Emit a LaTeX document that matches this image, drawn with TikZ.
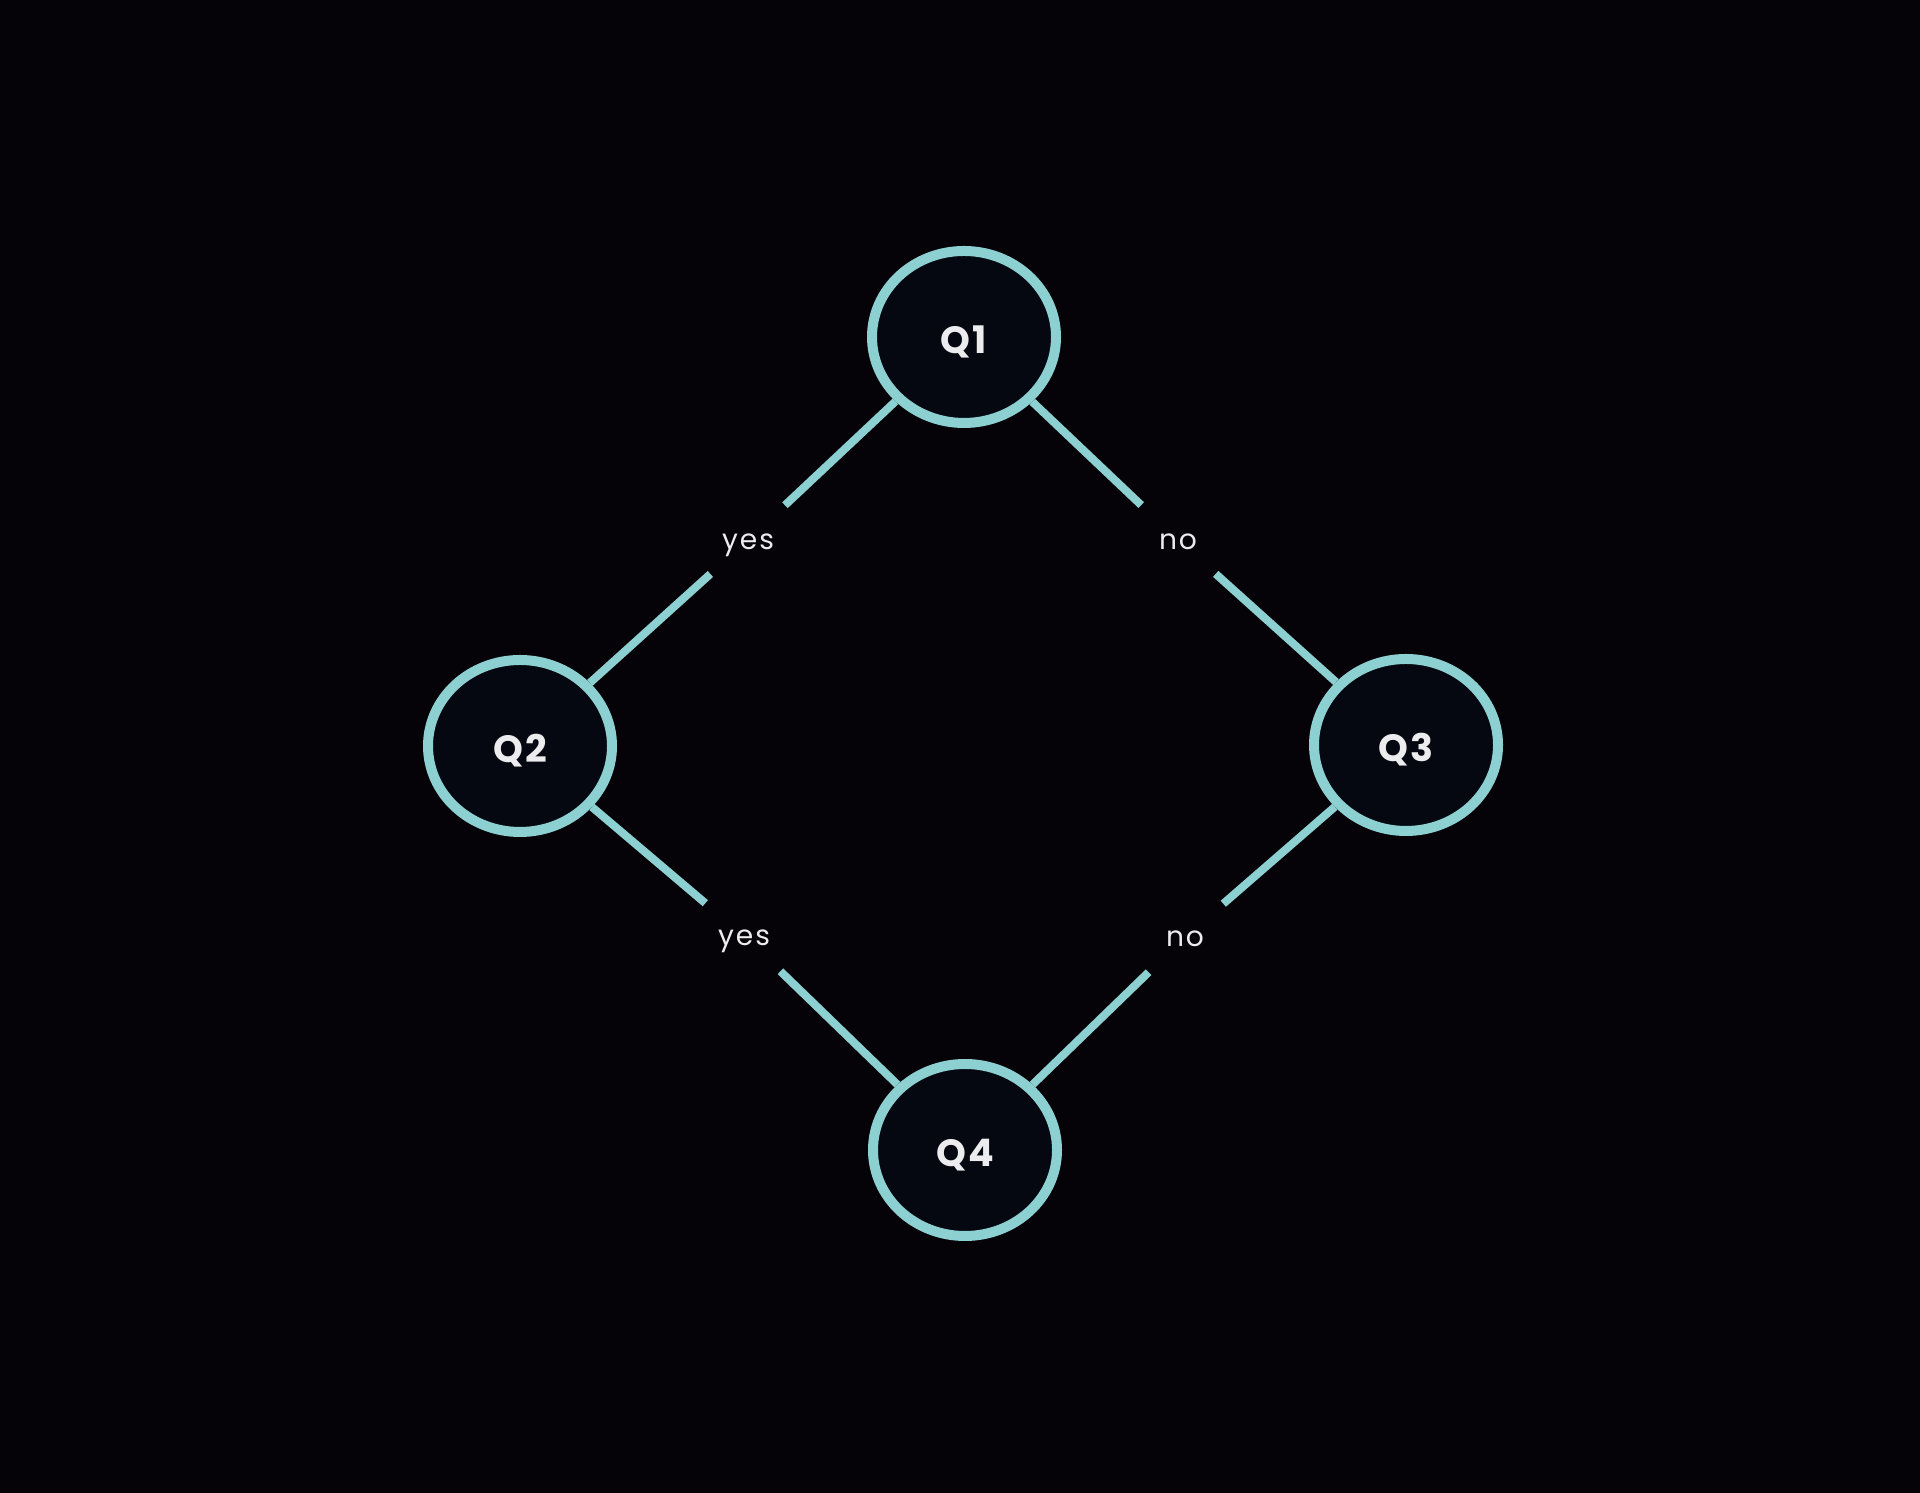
\documentclass[tikz,border=0pt]{standalone}
\usepackage{fontspec}
\setmainfont{Poppins}
\usetikzlibrary{shapes.geometric}
\definecolor{bgdark}{RGB}{6,3,8}
\definecolor{nodefill}{RGB}{5,8,16}
\definecolor{tealline}{RGB}{140,208,210}
\definecolor{softwhite}{RGB}{236,236,238}
\begin{document}
\begin{tikzpicture}
	\tikzstyle{q_i} = [ellipse, draw=tealline, fill=nodefill, line width=1mm, minimum width=1.84cm, minimum height=1.72cm, inner sep=0pt, text=softwhite, text height=0.95em, text depth=0pt, font=\fontsize{10.8}{12}\selectfont\bfseries\addfontfeature{LetterSpace=6}]
\tikzstyle{answer} = [circle, minimum size=1.0cm, inner sep=0pt, text=softwhite, text height=1ex, text depth=0pt, font=\fontsize{8}{9}\selectfont\addfontfeature{LetterSpace=7}]
\tikzstyle{edge} = [draw=tealline, line width=0.8mm]

\fill[bgdark] (0,0) rectangle (19.2,14.93);
\useasboundingbox (0,0) rectangle (19.2,14.93);

%questions
\foreach \name/\x/\y in {Q1/9.64/11.56, Q2/5.20/7.47, Q3/14.06/7.48, Q4/9.65/3.43}
  	\node[q_i] (\name) at (\x, \y) {\name};

%answers
\foreach \name/\txt/\x/\y in {yes_1/yes/7.48/9.53, no_1/no/11.78/9.53, yes_2/yes/7.44/5.57, no_2/no/11.85/5.56}
  	\node[answer] (\name) at (\x, \y) {\txt};

\foreach \from/\to in {Q1/yes_1, yes_1/Q2, Q1/no_1, no_1/Q3, Q2/yes_2, yes_2/Q4, Q3/no_2, no_2/Q4}
	\draw[edge] (\from) -- (\to);
\end{tikzpicture}
\end{document}
